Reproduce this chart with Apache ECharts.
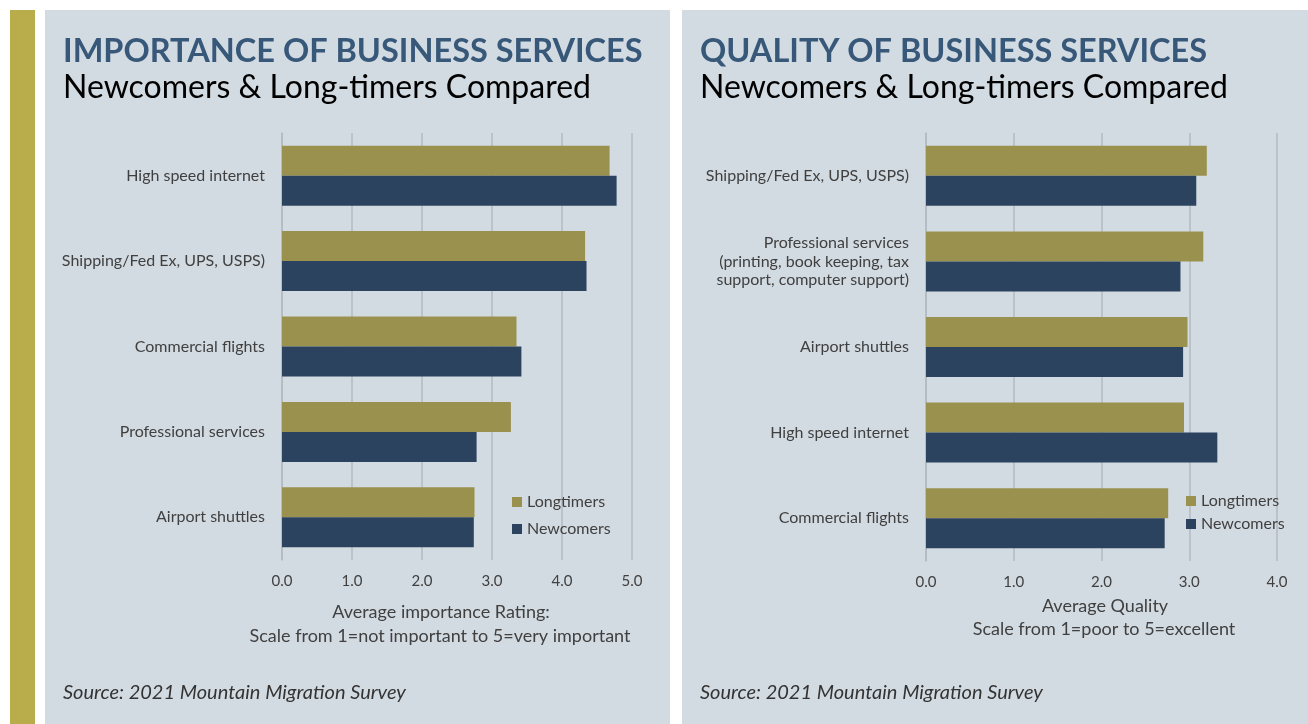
<!DOCTYPE html>
<html>
<head>
<meta charset="utf-8">
<title>Business services</title>
<script src="https://cdn.jsdelivr.net/npm/echarts@6/dist/echarts.min.js"></script>
<style>
  html, body { margin: 0; padding: 0; background: #fff; }
  #chart { width: 1308px; height: 724px; }
</style>
</head>
<body>
<div id="chart"></div>
<script>
// importance chart
const impCategories = ['High speed internet', 'Shipping/Fed Ex, UPS, USPS)', 'Commercial flights', 'Professional services', 'Airport shuttles']
const impLongtimers = [4.68, 4.33, 3.35, 3.27, 2.75]
const impNewcomers = [4.78, 4.35, 3.42, 2.78, 2.74]
const impTicks = [0, 1, 2, 3, 4, 5]

// quality chart
const qualCategories = ['Shipping/Fed Ex, UPS, USPS)', 'Professional services\n(printing, book keeping, tax\nsupport, computer support)', 'Airport shuttles', 'High speed internet', 'Commercial flights']
const qualLongtimers = [3.20, 3.16, 2.98, 2.94, 2.76]
const qualNewcomers = [3.08, 2.90, 2.93, 3.32, 2.72]
const qualTicks = [0, 1, 2, 3, 4]

const GOLD = '#9a914e'
const NAVY = '#2b435e'
const PANEL = '#d3dbe2'
const LABEL = '#404040'
const FONT = 'Lato, "Open Sans", sans-serif'

const chart = echarts.init(document.getElementById('chart'), null, { renderer: 'canvas' })

function valueAxis (gridIndex, ticks) {
  return {
    type: 'value',
    gridIndex,
    min: ticks[0],
    max: ticks[ticks.length - 1],
    interval: ticks[1] - ticks[0],
    axisLine: { show: false },
    axisTick: { show: false },
    splitLine: { lineStyle: { color: '#b3bac2', width: 1.5 } },
    axisLabel: {
      color: LABEL,
      fontFamily: FONT,
      fontSize: 15,
      margin: 14,
      formatter: v => v.toFixed(1)
    }
  }
}

function categoryAxis (gridIndex, data) {
  return {
    type: 'category',
    gridIndex,
    data,
    inverse: true,
    axisLine: { lineStyle: { color: '#b3bac2', width: 1.5 } },
    axisTick: { length: 6, lineStyle: { color: '#b3bac2', width: 1.5 } },
    axisLabel: {
      color: LABEL,
      fontFamily: FONT,
      fontSize: 16,
      lineHeight: 18.5,
      margin: 17
    }
  }
}

function barSeries (name, idx, data, color) {
  return {
    name,
    type: 'bar',
    xAxisIndex: idx,
    yAxisIndex: idx,
    data,
    barWidth: 30,
    barGap: '0%',
    itemStyle: { color },
    animation: false
  }
}

// centred text line, x/y is the middle of the line
function midText (x, y, text, size) {
  return {
    type: 'text',
    x,
    y,
    style: { text, fontFamily: FONT, fontSize: size, fill: LABEL, align: 'center', verticalAlign: 'middle' }
  }
}

function sourceText (x) {
  return {
    type: 'text',
    x,
    y: 693,
    style: {
      text: 'Source: 2021 Mountain Migration Survey',
      fontFamily: FONT,
      fontSize: 20,
      fontStyle: 'italic',
      fill: '#333',
      verticalAlign: 'middle'
    }
  }
}

const legendBase = {
  orient: 'vertical',
  icon: 'rect',
  itemWidth: 10,
  itemHeight: 10,
  data: ['Longtimers', 'Newcomers'],
  textStyle: { color: LABEL, fontFamily: FONT, fontSize: 16 }
}

const titleStyle = { color: '#38587a', fontFamily: FONT, fontWeight: 'bold', fontSize: 32.5 }
const subStyle = { color: '#000', fontFamily: FONT, fontSize: 32 }

chart.setOption({
  backgroundColor: '#fff',
  animation: false,
  title: [
    {
      text: 'IMPORTANCE OF BUSINESS SERVICES',
      subtext: 'Newcomers & Long-timers Compared',
      left: 58,
      top: 30,
      itemGap: 3.5,
      textStyle: titleStyle,
      subtextStyle: subStyle
    },
    {
      text: 'QUALITY OF BUSINESS SERVICES',
      subtext: 'Newcomers & Long-timers Compared',
      left: 695,
      top: 30,
      itemGap: 3.5,
      textStyle: titleStyle,
      subtextStyle: subStyle
    }
  ],
  legend: [
    Object.assign({ left: 507, top: 489, itemGap: 11 }, legendBase),
    Object.assign({ left: 1181, top: 488, itemGap: 7 }, legendBase)
  ],
  grid: [
    { left: 282, top: 133, width: 350, height: 427 },
    { left: 926, top: 133, width: 351, height: 428 }
  ],
  xAxis: [valueAxis(0, impTicks), valueAxis(1, qualTicks)],
  yAxis: [categoryAxis(0, impCategories), categoryAxis(1, qualCategories)],
  series: [
    barSeries('Longtimers', 0, impLongtimers, GOLD),
    barSeries('Newcomers', 0, impNewcomers, NAVY),
    barSeries('Longtimers', 1, qualLongtimers, GOLD),
    barSeries('Newcomers', 1, qualNewcomers, NAVY)
  ],
  graphic: [
    { type: 'rect', z: -10, silent: true, shape: { x: 10, y: 10, width: 25, height: 714 }, style: { fill: '#b9ac4a' } },
    { type: 'rect', z: -10, silent: true, shape: { x: 45, y: 10, width: 625, height: 714 }, style: { fill: PANEL } },
    { type: 'rect', z: -10, silent: true, shape: { x: 682, y: 10, width: 626, height: 714 }, style: { fill: PANEL } },
    midText(441, 612, 'Average importance Rating:', 18),
    midText(440, 636, 'Scale from 1=not important to 5=very important', 18),
    midText(1105, 606, 'Average Quality', 18),
    midText(1104, 629, 'Scale from 1=poor to 5=excellent', 18),
    sourceText(63),
    sourceText(700)
  ]
})
</script>
</body>
</html>
